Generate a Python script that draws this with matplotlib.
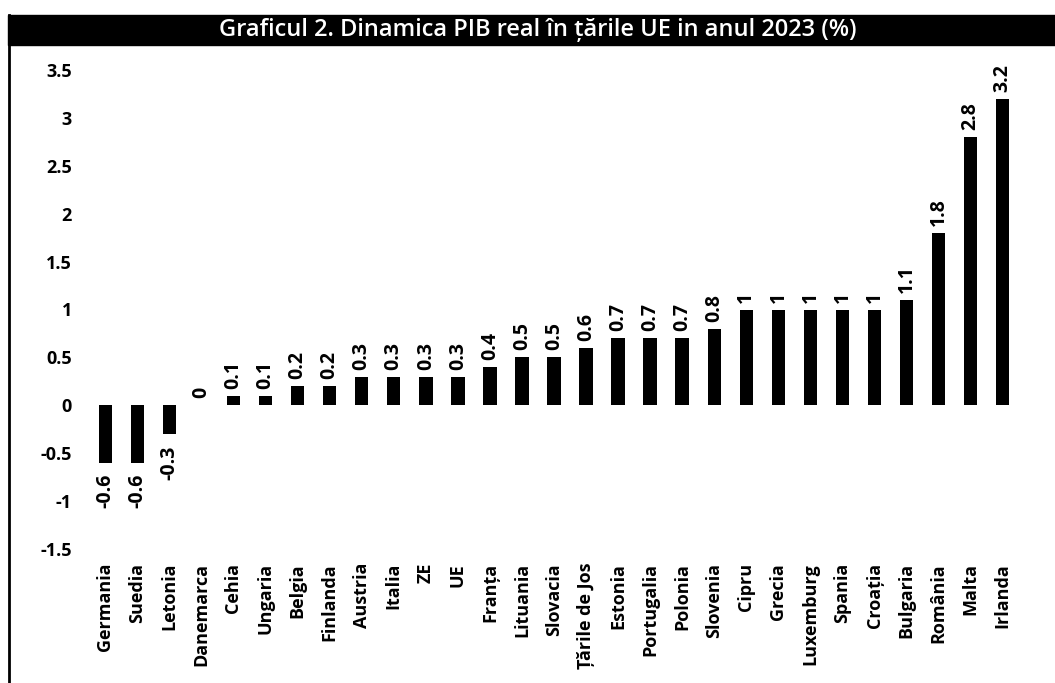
import matplotlib
matplotlib.use("Agg")
import matplotlib.pyplot as plt
from matplotlib.patches import Rectangle
from matplotlib.lines import Line2D

categories = ["Germania", "Suedia", "Letonia", "Danemarca", "Cehia", "Ungaria",
              "Belgia", "Finlanda", "Austria", "Italia", "ZE", "UE", "Franța",
              "Lituania", "Slovacia", "Țările de Jos", "Estonia", "Portugalia",
              "Polonia", "Slovenia", "Cipru", "Grecia", "Luxemburg", "Spania",
              "Croația", "Bulgaria", "România", "Malta", "Irlanda"]
values = [-0.6, -0.6, -0.3, 0, 0.1, 0.1, 0.2, 0.2, 0.3, 0.3, 0.3, 0.3, 0.4,
          0.5, 0.5, 0.6, 0.7, 0.7, 0.7, 0.8, 1, 1, 1, 1, 1, 1.1, 1.8, 2.8, 3.2]
value_labels = ["-0.6", "-0.6", "-0.3", "0", "0.1", "0.1", "0.2", "0.2", "0.3",
                "0.3", "0.3", "0.3", "0.4", "0.5", "0.5", "0.6", "0.7", "0.7",
                "0.7", "0.8", "1", "1", "1", "1", "1", "1.1", "1.8", "2.8", "3.2"]
yticks = [-1.5, -1, -0.5, 0, 0.5, 1, 1.5, 2, 2.5, 3, 3.5]
ytick_labels = ["-1.5", "-1", "-0.5", "0", "0.5", "1", "1.5", "2", "2.5", "3", "3.5"]
title = "Graficul 2. Dinamica PIB real în țările UE in anul 2023 (%)"

W, H = 1055, 683
fig = plt.figure(figsize=(W / 100, H / 100), dpi=100)
font = "Open Sans"

# title bar
fig.patches.append(Rectangle((8 / W, 1 - 45 / H), 1 - 8 / W, 30 / H,
                             transform=fig.transFigure, color="black", zorder=0))
fig.text(538 / W, 1 - 30 / H, title, color="white", ha="center", va="center",
         fontsize=17, family=font, fontweight="semibold")
fig.lines.append(Line2D([8.5 / W, 8.5 / W], [0, 1 - 15 / H], transform=fig.transFigure,
                        color="black", lw=2))

ax = fig.add_axes([86 / W, 1 - 549 / H, (1022 - 86) / W, (549 - 70) / H])
x = list(range(len(categories)))
ax.bar(x, values, width=0.42, color="black")
ax.set_xlim(-0.6, len(categories) - 0.4)
ax.set_ylim(-1.5, 3.5)
ax.set_yticks(yticks)
ax.set_yticklabels(ytick_labels, family=font, fontweight="bold", fontsize=13)
ax.set_xticks(x)
ax.set_xticklabels(categories, rotation=90, family=font, fontweight="bold",
                   fontsize=13)
ax.tick_params(axis="both", length=0)
ax.tick_params(axis="y", pad=10)
ax.tick_params(axis="x", pad=10)
for s in ax.spines.values():
    s.set_visible(False)

for xi, v, lab in zip(x, values, value_labels):
    if v < 0:
        ax.annotate(lab, (xi, v), xytext=(0, -8), textcoords="offset points",
                    rotation=90, ha="center", va="top", family=font,
                    fontweight="bold", fontsize=14)
    else:
        ax.annotate(lab, (xi, v), xytext=(0, 5), textcoords="offset points",
                    rotation=90, ha="center", va="bottom", family=font,
                    fontweight="bold", fontsize=14)

fig.savefig("out.png", dpi=100, facecolor="white")
